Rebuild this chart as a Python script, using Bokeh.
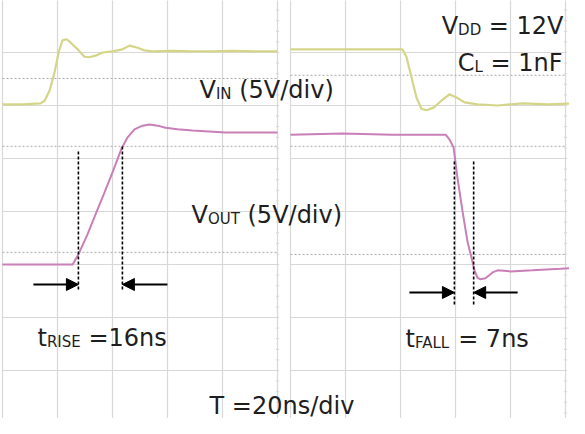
from bokeh.plotting import figure
from bokeh.models import Range1d, Arrow, NormalHead, ColumnDataSource
from bokeh.core.properties import value
from bokeh.embed import file_html
from bokeh.resources import INLINE

# ---------------- data ----------------
# time in ns from the start of each scope screen, level in screen divisions from the bottom
DIV_NS = 20          # T = 20 ns/div
N_XDIV = 5
N_YDIV = 8
PANEL2_OFFSET = 104.73   # where the second capture (falling edge) starts, ns

rise_vin_t = [0, 7.3, 13.8, 15.3, 17.1, 18.9, 20.4, 21.8, 23.3, 24.7, 27.3, 29.8, 31.6, 33.8,
              36.4, 40.0, 43.6, 46.2, 49.1, 51.6, 54.5, 62.0, 69.1, 76.0, 83.6, 92.0, 100]
rise_vin_v = [6.02, 6.02, 6.04, 6.09, 6.28, 6.62, 7.0, 7.23, 7.25, 7.19, 7.06, 6.92, 6.91, 6.94,
              7.0, 7.02, 7.06, 7.13, 7.09, 7.04, 7.02, 7.03, 7.02, 7.02, 7.03, 7.02, 7.02]

rise_vout_t = [0, 10.9, 25.5, 27.6, 30.9, 33.8, 37.1, 40.4, 43.3, 45.5, 48.0, 50.9, 53.5, 56.4,
               59.3, 63.6, 69.1, 81.1, 100]
rise_vout_v = [3.0, 3.0, 3.0, 3.19, 3.57, 3.94, 4.36, 4.79, 5.19, 5.40, 5.55, 5.62, 5.64, 5.62,
               5.58, 5.55, 5.53, 5.49, 5.49]

fall_vin_t = [0, 18.9, 40.7, 42.2, 44.0, 45.8, 47.6, 49.5, 52.0, 54.9, 57.8, 60.4, 63.3, 68.0,
              75.3, 84.4, 93.5, 104.5]
fall_vin_v = [7.06, 7.06, 7.06, 6.91, 6.53, 6.15, 5.94, 5.91, 5.96, 6.09, 6.21, 6.15, 6.06, 6.02,
              6.0, 6.04, 6.02, 6.04]

fall_vout_t = [0, 18.9, 37.1, 56.4, 57.8, 59.3, 60.7, 62.5, 64.4, 65.8, 66.9, 68.0, 69.1, 70.9,
               73.5, 75.3, 80.0, 88.0, 98.2, 104.5]
fall_vout_v = [5.45, 5.47, 5.45, 5.45, 5.36, 5.21, 4.64, 4.02, 3.42, 3.13, 2.89, 2.75, 2.72, 2.74,
               2.85, 2.89, 2.87, 2.89, 2.92, 2.94]

rise_ref_levels = [6.51, 5.23, 3.23]
fall_ref_levels = [6.57, 5.23, 3.19]

T_RISE_START = 27.6
T_RISE = 16
T_FALL_START = 59.6
T_FALL = 7

# ---------------- layout helpers (reference px -> data) ----------------
PX_PER_DIV_X = 55.0
PX_PER_DIV_Y = 53.0
MARGIN = 8
def tx(X):
    return (X - 10) * DIV_NS / PX_PER_DIV_X
def vy(Y):
    return (431 - Y) / PX_PER_DIV_Y
def px2t(dx):
    return dx * DIV_NS / PX_PER_DIV_X

W, H = 569, 418
p = figure(width=W, height=H, output_backend="svg", toolbar_location=None,
           x_range=Range1d(tx(MARGIN), tx(MARGIN + W)), y_range=Range1d(vy(MARGIN + H), vy(MARGIN)),
           min_border=0, background_fill_color="white", border_fill_color="white")
p.axis.visible = False
p.xgrid.visible = False
p.ygrid.visible = False
p.outline_line_color = None

GRID = "#d8d8d8"
REF = "#a9a9a9"
for off in (0.0, PANEL2_OFFSET):
    xs = [off + i * DIV_NS for i in range(N_XDIV + 1)]
    p.segment(x0=xs, y0=[0] * len(xs), x1=xs, y1=[N_YDIV] * len(xs), line_color=GRID, line_width=1.2)
    ys = list(range(N_YDIV + 1))
    p.segment(x0=[off] * len(ys), y0=ys, x1=[off + N_XDIV * DIV_NS] * len(ys), y1=ys,
              line_color=GRID, line_width=1.2)
    # minor ticks on the right edge
    tk = [i * 0.2 for i in range(N_YDIV * 5 + 1)]
    xr = off + N_XDIV * DIV_NS
    p.segment(x0=[xr - 0.6] * len(tk), y0=tk, x1=[xr + 0.6] * len(tk), y1=tk,
              line_color=GRID, line_width=1)

for off, levels in ((0.0, rise_ref_levels), (PANEL2_OFFSET, fall_ref_levels)):
    p.segment(x0=[off] * 3, y0=levels, x1=[off + N_XDIV * DIV_NS] * 3, y1=levels,
              line_color=REF, line_width=1, line_dash="2 2")

YEL = "#d5d58a"
PNK = "#c97fb7"
p.line(rise_vin_t, rise_vin_v, line_color=YEL, line_width=2.2)
p.line(rise_vout_t, rise_vout_v, line_color=PNK, line_width=2.0)
p.line([t + PANEL2_OFFSET for t in fall_vin_t], fall_vin_v, line_color=YEL, line_width=2.2)
p.line([t + PANEL2_OFFSET for t in fall_vout_t], fall_vout_v, line_color=PNK, line_width=2.0)

# timing markers
rx = [T_RISE_START, T_RISE_START + T_RISE]
fx = [PANEL2_OFFSET + T_FALL_START, PANEL2_OFFSET + T_FALL_START + T_FALL]
p.segment(x0=rx, y0=[vy(297)] * 2, x1=rx, y1=[vy(157), vy(152)],
          line_color="black", line_width=1.6, line_dash="3 2")
p.segment(x0=fx, y0=[vy(312)] * 2, x1=fx, y1=[vy(167)] * 2,
          line_color="black", line_width=1.6, line_dash="3 2")

ay_r = vy(292)
ay_f = vy(300)
arr = ColumnDataSource(dict(
    xs=[rx[0] - px2t(45), rx[1] + px2t(45), fx[0] - px2t(45), fx[1] + px2t(44)],
    ys=[ay_r, ay_r, ay_f, ay_f],
    xe=[rx[0], rx[1], fx[0], fx[1]],
    ye=[ay_r, ay_r, ay_f, ay_f]))
p.add_layout(Arrow(end=NormalHead(size=12, fill_color="black", line_color="black", line_width=1),
                   x_start="xs", y_start="ys", x_end="xe", y_end="ye", source=arr,
                   line_color="black", line_width=1.8))

# ---------------- texts ----------------
CW = {'V': 0.684, 'I': 0.295, 'N': 0.748, 'O': 0.787, 'U': 0.732, 'T': 0.611, 'D': 0.770,
      'C': 0.698, 'L': 0.557, 'R': 0.695, 'S': 0.635, 'E': 0.632, 'F': 0.575, 'A': 0.684,
      't': 0.392, ' ': 0.318, '(': 0.390, ')': 0.390, '/': 0.337, 'd': 0.635, 'i': 0.278,
      'v': 0.592, '=': 0.838, 'n': 0.634, 's': 0.521}
MAIN, SUB = 24, 15
def width(s, size):
    return sum(CW.get(c, 0.636) for c in s) * size

labels = [
    (207, 97, "left", [("V", 0), ("IN", 1), (" (5V/div)", 0)]),
    (199, 222, "left", [("V", 0), ("OUT", 1), (" (5V/div)", 0)]),
    (571, 33, "right", [("V", 0), ("DD", 1), (" = 12V", 0)]),
    (570, 70, "right", [("C", 0), ("L", 1), (" = 1nF", 0)]),
    (45, 345, "left", [("t", 0), ("RISE", 1), (" =16ns", 0)]),
    (413, 346, "left", [("t", 0), ("FALL", 1), (" = 7ns", 0)]),
    (217, 413, "left", [("T =20ns/div", 0)]),
]
mx, my, mt, sx, sy, st = [], [], [], [], [], []
for X, Y, align, pieces in labels:
    total = sum(width(s, SUB if sub else MAIN) for s, sub in pieces)
    cur = X if align == "left" else X - total
    for s, sub in pieces:
        size = SUB if sub else MAIN
        lead = len(s) - len(s.lstrip(" "))
        cur += lead * CW[' '] * size          # SVG drops leading blanks: move instead
        body = s.lstrip(" ")
        if sub:
            sx.append(tx(cur)); sy.append(vy(Y + 4)); st.append(body)
        else:
            mx.append(tx(cur)); my.append(vy(Y)); mt.append(body)
        cur += width(body, size)

p.text(x=mx, y=my, text=mt, text_font=value("DejaVu Sans"), text_font_size=f"{MAIN}px",
       text_baseline="alphabetic", text_align="left", text_color="#1e1e1e")
p.text(x=sx, y=sy, text=st, text_font=value("DejaVu Sans"), text_font_size=f"{SUB}px",
       text_baseline="alphabetic", text_align="left", text_color="#1e1e1e")

open("out.html", "w").write(file_html(p, INLINE))
